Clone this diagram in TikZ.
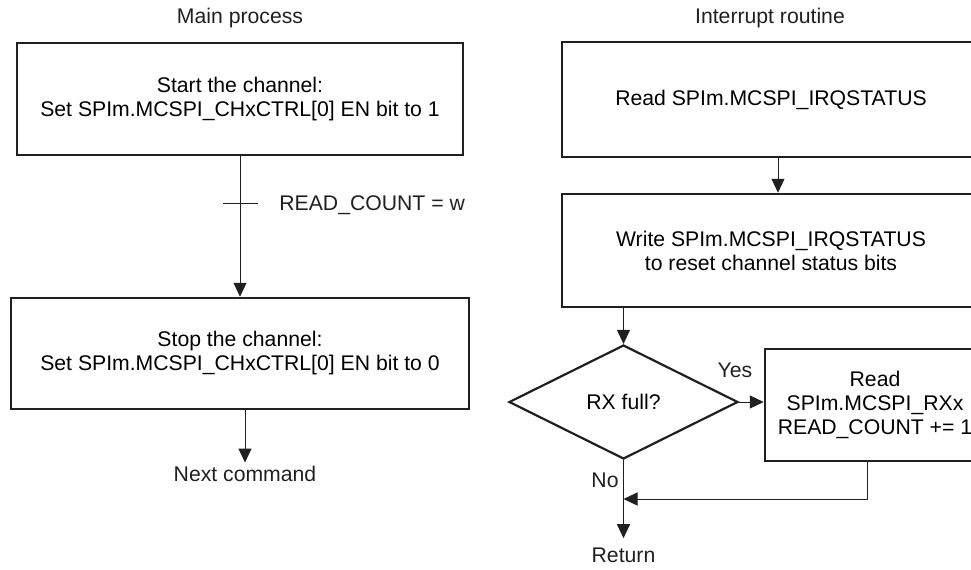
\documentclass[tikz,border=0pt]{standalone}
\usepackage{fontspec}
\setmainfont{Liberation Sans}
\usepackage{xcolor}
\usepackage{tikz}
\usetikzlibrary{shapes.geometric, arrows.meta}
\definecolor{inkdark}{RGB}{35,31,32}

\begin{document}
\begin{tikzpicture}[
  x=0.5pt, y=-0.5pt,
  font=\fontsize{10.6}{12}\selectfont,
  box/.style={rectangle, draw=inkdark, line width=1.25pt, align=center,
              inner sep=0pt},
  decide/.style={diamond, draw=inkdark, line width=1.1pt, inner sep=0pt,
                 minimum width=114.5pt, minimum height=57pt},
  lbl/.style={inner sep=1pt, text=inkdark},
  wire/.style={draw=inkdark, line width=0.5pt},
  arrow/.style={wire, -{Triangle[length=7pt, width=6.5pt]}}
]
\useasboundingbox (0,0) rectangle (971,569);
\clip (0,0) rectangle (971,569);

% main process
\node[lbl] (mtitle) at (240,18) {Main process};
\node[box, minimum width=223pt, minimum height=56pt] (start) at (240,99)
  {Start the channel:\\Set SPIm.MCSPI\_CHxCTRL[0] EN bit to 1};
\node[box, minimum width=229pt, minimum height=55.5pt] (stop) at (240,353.5)
  {Stop the channel:\\Set SPIm.MCSPI\_CHxCTRL[0] EN bit to 0};
\node[lbl, inner sep=1.65pt] (next) at (245,474) {Next command};
\coordinate (tick) at (240,203);
\node[lbl, anchor=west] (cnt) at (277,205) {READ\_COUNT = w};

\draw[arrow] (start) -- (stop);
\draw[wire] ([xshift=-8.5pt]tick) -- ([xshift=9pt]tick);
\draw[arrow] (stop.south -| next) -- (next);

% interrupt routine
\node[lbl] (ititle) at (770,18) {Interrupt routine};
\node[box, minimum width=209pt, minimum height=57.5pt] (irq) at (771,99.5)
  {Read SPIm.MCSPI\_IRQSTATUS};
\node[box, minimum width=209pt, minimum height=56.5pt] (clr) at (771,250.5)
  {Write SPIm.MCSPI\_IRQSTATUS\\to reset channel status bits};
\node[decide] (rx) at (623.5,402) {RX full?};
\node[box, minimum width=110pt, minimum height=56pt] (rd) at (875,405)
  {Read\\SPIm.MCSPI\_RXx\\READ\_COUNT += 1};
\node[lbl] (yes) at (735,370) {Yes};
\node[lbl] (no) at (605,480) {No};
\node[lbl, inner sep=4.5pt] (ret) at (623.5,555) {Return};
\coordinate (join) at (623.5,499);

\draw[arrow] ([xshift=3.5pt]irq.south) -- ([xshift=3.5pt]clr.north);
\draw[arrow] (clr.south -| rx.north) -- (rx.north);
\draw[arrow] (rx.east) -- (rd.west |- rx.east);
\draw[arrow] ([xshift=-4pt]rd.south) |- (join);
\draw[arrow] (rx.south) -- (ret);
\end{tikzpicture}
\end{document}
